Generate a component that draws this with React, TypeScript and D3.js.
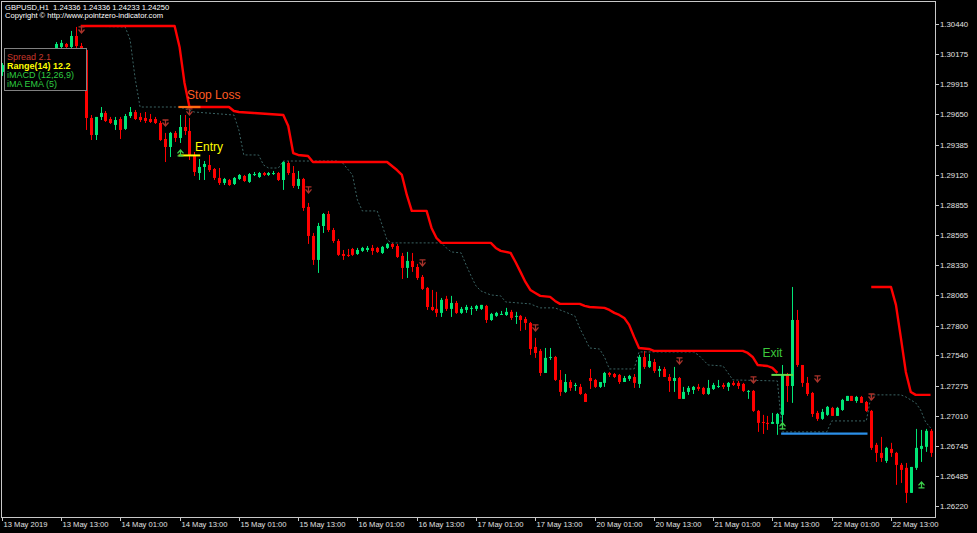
import * as d3 from "d3";
import React from "react";

const width = 977;
const height = 533;
const frame = { left: 1, top: 1, right: 935, bottom: 517 };

// one label every 12 H1 bars, first one is bar 0
const timeLabels = [
	"13 May 2019", "13 May 13:00", "14 May 01:00", "14 May 13:00",
	"15 May 01:00", "15 May 13:00", "16 May 01:00", "16 May 13:00",
	"17 May 01:00", "17 May 13:00", "20 May 01:00", "20 May 13:00",
	"21 May 01:00", "21 May 13:00", "22 May 01:00", "22 May 13:00",
];
const barsPerLabel = 12;

const priceTicks = [
	1.3044, 1.30175, 1.29915, 1.2965, 1.29385, 1.2912, 1.28855, 1.28595, 1.2833,
	1.28065, 1.278, 1.2754, 1.27275, 1.2701, 1.26745, 1.26485, 1.2622,
];

// GBPUSD H1 bars: [open, high, low, close]
const candles: [number, number, number, number][] = [
	[1.30021, 1.30099, 1.29986, 1.30082], [1.30082, 1.30126, 1.30038, 1.30108], [1.30108, 1.30143, 1.30056, 1.30073],
	[1.30073, 1.30126, 1.30038, 1.30117], [1.30117, 1.3017, 1.30091, 1.30152], [1.30152, 1.30178, 1.30099, 1.30126],
	[1.30126, 1.30196, 1.30108, 1.30178], [1.30178, 1.30205, 1.30143, 1.30161], [1.30161, 1.30213, 1.30135, 1.30196],
	[1.30196, 1.30222, 1.30152, 1.3017], [1.3017, 1.30222, 1.30152, 1.30205], [1.30205, 1.30283, 1.30187, 1.30266],
	[1.3024, 1.30301, 1.30222, 1.30275], [1.30266, 1.30275, 1.30231, 1.3024], [1.3024, 1.3038, 1.30222, 1.30336],
	[1.30336, 1.30415, 1.30231, 1.30248], [1.30248, 1.30275, 1.30161, 1.30213], [1.30213, 1.30231, 1.29513, 1.29618],
	[1.29618, 1.29644, 1.29425, 1.29469], [1.29469, 1.29627, 1.29425, 1.29627], [1.29627, 1.29714, 1.296, 1.29662],
	[1.29662, 1.29679, 1.29583, 1.29592], [1.29609, 1.29627, 1.29565, 1.29574], [1.29557, 1.29627, 1.29513, 1.296],
	[1.29609, 1.29627, 1.29434, 1.29513], [1.29522, 1.29653, 1.29513, 1.29635], [1.29635, 1.29714, 1.29618, 1.2967],
	[1.2967, 1.29688, 1.296, 1.29609], [1.29627, 1.29662, 1.29583, 1.296], [1.29618, 1.2967, 1.29574, 1.29592],
	[1.29609, 1.29653, 1.29574, 1.29583], [1.29609, 1.29627, 1.29565, 1.29574], [1.29574, 1.29592, 1.29417, 1.29425],
	[1.29434, 1.29487, 1.29232, 1.29364], [1.29364, 1.29496, 1.29276, 1.29487], [1.29487, 1.29504, 1.29408, 1.29443],
	[1.29443, 1.29644, 1.29399, 1.29539], [1.29539, 1.29644, 1.29469, 1.29504], [1.29504, 1.29618, 1.2925, 1.29294],
	[1.29294, 1.2932, 1.2911, 1.29145], [1.29136, 1.29259, 1.29075, 1.29189], [1.29189, 1.29241, 1.29075, 1.29215],
	[1.29206, 1.29294, 1.29145, 1.29162], [1.29171, 1.2918, 1.29075, 1.29093], [1.29093, 1.2918, 1.29031, 1.29049],
	[1.29049, 1.29093, 1.29031, 1.29084], [1.29075, 1.29084, 1.29023, 1.29031], [1.2904, 1.29101, 1.29031, 1.29093],
	[1.29084, 1.29127, 1.29075, 1.29119], [1.2911, 1.29119, 1.29058, 1.29066], [1.29058, 1.29136, 1.29049, 1.29127],
	[1.29119, 1.29145, 1.2911, 1.29127], [1.29101, 1.29145, 1.29093, 1.29136], [1.29136, 1.29145, 1.2911, 1.29119],
	[1.29119, 1.29145, 1.2911, 1.29136], [1.29127, 1.29154, 1.29119, 1.29136], [1.29136, 1.29145, 1.29066, 1.29075],
	[1.29075, 1.29241, 1.28988, 1.29232], [1.29224, 1.29241, 1.29119, 1.29136], [1.29136, 1.29197, 1.29005, 1.29023],
	[1.29023, 1.29154, 1.28996, 1.29084], [1.29084, 1.29093, 1.28804, 1.2883], [1.28839, 1.28874, 1.28515, 1.28585],
	[1.28585, 1.28611, 1.28331, 1.28375], [1.28375, 1.28699, 1.28261, 1.28672], [1.28672, 1.28786, 1.28611, 1.28777],
	[1.28777, 1.28804, 1.2862, 1.28637], [1.28637, 1.28655, 1.28524, 1.28541], [1.28541, 1.28558, 1.2841, 1.28419],
	[1.28427, 1.28462, 1.28375, 1.2841], [1.28419, 1.28471, 1.28401, 1.2841], [1.28471, 1.2848, 1.2841, 1.28419],
	[1.28427, 1.2848, 1.28419, 1.28462], [1.28454, 1.28489, 1.28445, 1.2848], [1.28462, 1.28497, 1.28445, 1.2848],
	[1.2848, 1.28506, 1.28419, 1.28454], [1.2848, 1.28489, 1.28436, 1.28445], [1.28436, 1.28497, 1.28427, 1.28489],
	[1.2848, 1.28524, 1.28471, 1.28515], [1.28515, 1.28524, 1.28471, 1.28489], [1.28497, 1.28515, 1.28392, 1.28401],
	[1.2841, 1.28436, 1.28208, 1.28305], [1.28305, 1.28445, 1.28217, 1.28366], [1.28366, 1.28436, 1.2827, 1.28313],
	[1.28313, 1.2834, 1.282, 1.28217], [1.28226, 1.28243, 1.28112, 1.28121], [1.2813, 1.28138, 1.27937, 1.27963],
	[1.27963, 1.28112, 1.27928, 1.27937], [1.27946, 1.28095, 1.27876, 1.27911], [1.27911, 1.28042, 1.27876, 1.28025],
	[1.28034, 1.2806, 1.27928, 1.27946], [1.27946, 1.2806, 1.27876, 1.27998], [1.27998, 1.28016, 1.27902, 1.27911],
	[1.27911, 1.27963, 1.27902, 1.27946], [1.27937, 1.27981, 1.27911, 1.27963], [1.27946, 1.27972, 1.27893, 1.27955],
	[1.27946, 1.27981, 1.27928, 1.27972], [1.27946, 1.27981, 1.27937, 1.27981], [1.27972, 1.27981, 1.27823, 1.27849],
	[1.27849, 1.27911, 1.27841, 1.27902], [1.27885, 1.2792, 1.27876, 1.27911], [1.27893, 1.27928, 1.27893, 1.27902],
	[1.27893, 1.27955, 1.27885, 1.2792], [1.2792, 1.27937, 1.27849, 1.27867], [1.27876, 1.2792, 1.27814, 1.27885],
	[1.27885, 1.27893, 1.27753, 1.27849], [1.27858, 1.27876, 1.27762, 1.27823], [1.27823, 1.27832, 1.27543, 1.27595],
	[1.27613, 1.27692, 1.27517, 1.2756], [1.27578, 1.27595, 1.27359, 1.27385], [1.27385, 1.27604, 1.27385, 1.27517],
	[1.27517, 1.27604, 1.27499, 1.27525], [1.27525, 1.27534, 1.27315, 1.27324], [1.27324, 1.27411, 1.27184, 1.27219],
	[1.27219, 1.27376, 1.2721, 1.27306], [1.27306, 1.27324, 1.27228, 1.27254], [1.27271, 1.27298, 1.27228, 1.2728],
	[1.27263, 1.27289, 1.27193, 1.27201], [1.27201, 1.2721, 1.27131, 1.27131], [1.27341, 1.2742, 1.27245, 1.27315],
	[1.27324, 1.27333, 1.27254, 1.27263], [1.27263, 1.27306, 1.27254, 1.27306], [1.27298, 1.27394, 1.27263, 1.27385],
	[1.27385, 1.27394, 1.2735, 1.27368], [1.27376, 1.27385, 1.27341, 1.2735], [1.27368, 1.27376, 1.27289, 1.27306],
	[1.27306, 1.27359, 1.27306, 1.27341], [1.27333, 1.27368, 1.27315, 1.27359], [1.2735, 1.27376, 1.27254, 1.27298],
	[1.27289, 1.27543, 1.27254, 1.27525], [1.27525, 1.27578, 1.2742, 1.27438], [1.27438, 1.27552, 1.27429, 1.2749],
	[1.27481, 1.27508, 1.27385, 1.27403], [1.27403, 1.27446, 1.2735, 1.2742], [1.2742, 1.27438, 1.2735, 1.2735],
	[1.2735, 1.27376, 1.27219, 1.27315], [1.27315, 1.27438, 1.27219, 1.27341], [1.27341, 1.2735, 1.27158, 1.27158],
	[1.27158, 1.27263, 1.27158, 1.27219], [1.27219, 1.27271, 1.27193, 1.27254], [1.27236, 1.27271, 1.27201, 1.27263],
	[1.27263, 1.27289, 1.27228, 1.27245], [1.27254, 1.27263, 1.27193, 1.27201], [1.27201, 1.27324, 1.27193, 1.27254],
	[1.27245, 1.27298, 1.27236, 1.2728], [1.27263, 1.27324, 1.27254, 1.27271], [1.2728, 1.27298, 1.27245, 1.27263],
	[1.27263, 1.27306, 1.27228, 1.27298], [1.27298, 1.27315, 1.27271, 1.2728], [1.27298, 1.27315, 1.27245, 1.27271],
	[1.27289, 1.27298, 1.27219, 1.27228], [1.27228, 1.27236, 1.27158, 1.27228], [1.27228, 1.27236, 1.27044, 1.27053],
	[1.27053, 1.27061, 1.26869, 1.26948], [1.26956, 1.27018, 1.26851, 1.26948], [1.26948, 1.27009, 1.26886, 1.26939],
	[1.26939, 1.27035, 1.26939, 1.26956], [1.26939, 1.27035, 1.26843, 1.27026], [1.27018, 1.27455, 1.26913, 1.27368],
	[1.27368, 1.27385, 1.27131, 1.27271], [1.27271, 1.28138, 1.27123, 1.27849], [1.27849, 1.27937, 1.27438, 1.27455],
	[1.27455, 1.27455, 1.27263, 1.27298], [1.27298, 1.2735, 1.27184, 1.27201], [1.2721, 1.27219, 1.27, 1.27026],
	[1.27035, 1.27053, 1.26965, 1.26983], [1.26983, 1.2707, 1.26974, 1.27044], [1.27018, 1.27096, 1.27009, 1.27088],
	[1.27079, 1.27088, 1.27009, 1.27009], [1.27009, 1.27088, 1.27009, 1.27079], [1.27061, 1.27158, 1.27053, 1.27149],
	[1.2714, 1.27184, 1.2714, 1.27184], [1.27184, 1.27184, 1.2714, 1.2714], [1.2714, 1.27184, 1.27123, 1.27175],
	[1.27175, 1.27184, 1.27123, 1.27123], [1.27131, 1.2714, 1.27044, 1.27053], [1.27053, 1.27061, 1.26711, 1.26729],
	[1.26755, 1.26773, 1.26606, 1.26685], [1.26685, 1.26825, 1.26606, 1.26641], [1.26615, 1.26738, 1.26597, 1.26729],
	[1.2672, 1.26773, 1.2665, 1.26685], [1.26685, 1.26694, 1.26405, 1.2658], [1.2658, 1.26597, 1.26422, 1.26536],
	[1.26554, 1.26597, 1.26247, 1.26335], [1.26335, 1.26562, 1.26335, 1.26562], [1.26554, 1.26895, 1.26536, 1.26729],
	[1.2672, 1.26886, 1.26606, 1.26746], [1.26738, 1.26895, 1.26694, 1.26878], [1.26878, 1.26895, 1.2665, 1.26685],
];

// trailing stop (solid red), [bar, price] vertices, two runs
const stopRuns: [number, number][][] = [
	[
		[16, 1.30423], [35, 1.30423], [36, 1.3024], [37, 1.29924], [38, 1.29714], [46, 1.29714], [47, 1.29679],
		[48, 1.2967], [51, 1.29662], [57, 1.29644], [58, 1.29548], [59, 1.29311], [60, 1.29294], [62, 1.29285],
		[63, 1.29232], [78, 1.29232], [79, 1.29197], [80, 1.29162], [81, 1.29119], [82, 1.28944], [83, 1.28804],
		[86, 1.28804], [87, 1.28655], [88, 1.28567], [89, 1.28524], [99, 1.28524], [100, 1.2848], [101, 1.28454],
		[103, 1.28436], [104, 1.28357], [105, 1.2827], [106, 1.28182], [107, 1.28112], [108, 1.28086], [109, 1.2806],
		[111, 1.28051], [112, 1.28016], [113, 1.2799], [117, 1.2799], [118, 1.27972], [119, 1.27963], [122, 1.27955],
		[123, 1.27937], [124, 1.27911], [125, 1.27893], [126, 1.27867], [127, 1.27806], [128, 1.27701], [129, 1.27604],
		[131, 1.27595], [132, 1.27578], [150, 1.27578], [151, 1.2756], [152, 1.27525], [153, 1.27455], [155, 1.27446],
		[156, 1.27429], [157, 1.27385],
	],
	[
		[176, 1.28138], [180, 1.28138], [181, 1.27981], [182, 1.27692], [183, 1.27394], [184, 1.27219], [185, 1.27193],
		[188, 1.27193],
	],
];

// second trailing level (dotted)
const trailLine: [number, number][] = [
	[16, 1.30423], [25, 1.30415], [26, 1.30301], [27, 1.29968], [28, 1.29714], [36, 1.29714], [39, 1.2967],
	[47, 1.29644], [48, 1.29513], [49, 1.29294], [52, 1.29294], [53, 1.29206], [54, 1.2918], [56, 1.2918],
	[57, 1.29241], [68, 1.29241], [69, 1.29224], [71, 1.29119], [72, 1.289], [73, 1.28804], [76, 1.28804],
	[77, 1.28681], [78, 1.2855], [79, 1.28524], [89, 1.28524], [90, 1.2848], [91, 1.28445], [93, 1.28436],
	[94, 1.28331], [95, 1.28235], [96, 1.28147], [97, 1.28103], [99, 1.28068], [101, 1.2806], [102, 1.28007],
	[107, 1.2799], [108, 1.27972], [109, 1.27955], [112, 1.27955], [113, 1.27937], [114, 1.2792], [116, 1.27885],
	[117, 1.27779], [118, 1.27692], [119, 1.27604], [121, 1.27595], [122, 1.27525], [123, 1.2742], [128, 1.2742],
	[129, 1.27569], [140, 1.27569], [141, 1.27543], [142, 1.27499], [143, 1.27455], [146, 1.27446], [147, 1.27385],
	[148, 1.27324], [157, 1.27315], [158, 1.26869], [167, 1.26869], [168, 1.26965], [175, 1.26965], [176, 1.27193],
	[182, 1.27193], [183, 1.27175], [185, 1.27123], [186, 1.27061], [187, 1.26956], [188, 1.26904],
];

const sellArrows: [number, number][] = [
	[16, 1.30415], [33, 1.296], [38, 1.29697], [62, 1.29014], [85, 1.28375], [108, 1.27806],
	[137, 1.27517], [152, 1.2735], [165, 1.27359], [176, 1.27201],
];
const buyArrows: [number, number][] = [[36, 1.29338], [158, 1.26948], [186, 1.26431]];

// trade objects: [fromBar, toBar, price]
const stopLevel: [number, number, number] = [36, 40, 1.29714];
const entryLevel: [number, number, number] = [36, 40, 1.2929];
const exitLevel: [number, number, number] = [156, 160, 1.27368];
const targetLevel: [number, number, number] = [158, 175, 1.26854];

const infoLines = [
	{ text: "Spread 2.1", color: "#c8382c", bold: false },
	{ text: "Range(14) 12.2", color: "#ffff00", bold: true },
	{ text: "iMACD (12,26,9)", color: "#2ecc40", bold: false },
	{ text: "iMA EMA (5)", color: "#2ecc40", bold: false },
];

const font = "'Liberation Sans', Arial, sans-serif";
const bull = "#00e676";
const bear = "#ff0000";

const x = d3.scaleLinear().domain([0, 180]).range([1.7, 891]);
const y = d3.scaleLinear().domain([1.2622, 1.3044]).range([506, 24.1]);

const line = d3
	.line<[number, number]>()
	.x((d) => x(d[0]))
	.y((d) => y(d[1]));

const App = () => {
	const px = (i: number) => Math.round(x(i)) + 0.5;

	const levelLine = (l: [number, number, number], color: string, w: number) => (
		<line
			x1={x(l[0])}
			x2={x(l[1])}
			y1={y(l[2])}
			y2={y(l[2])}
			stroke={color}
			strokeWidth={w}
			strokeLinecap="square"
		/>
	);

	return (
		<div style={{ position: "absolute", left: 0, top: 0 }}>
			<svg width={width} height={height} style={{ display: "block", background: "#000" }}>
				<defs>
					<clipPath id="plot">
						<rect x={frame.left} y={frame.top} width={frame.right - frame.left} height={frame.bottom - frame.top} />
					</clipPath>
				</defs>
				<rect width={width} height={height} fill="#000" />

				<g clipPath="url(#plot)">
					{candles.map(([o, h, l, c], i) => {
						const cx = px(i);
						const col = c >= o ? bull : bear;
						const top = Math.min(y(o), y(c));
						const bh = Math.max(1, Math.abs(y(o) - y(c)));
						return (
							<g key={i}>
								<line x1={cx} x2={cx} y1={y(h)} y2={y(l)} stroke={col} strokeWidth={1} />
								<rect x={cx - 1.5} y={top} width={3} height={bh} fill={col} />
							</g>
						);
					})}

					<path d={line(trailLine) ?? ""} fill="none" stroke="#3a6262" strokeWidth={1} strokeDasharray="2 2" />
					{stopRuns.map((run, k) => (
						<path key={k} d={line(run) ?? ""} fill="none" stroke="#ff0000" strokeWidth={2.4} strokeLinejoin="round" />
					))}

					{levelLine(stopLevel, "#ff6a10", 2.2)}
					{levelLine(entryLevel, "#ffff00", 2)}
					{levelLine(exitLevel, "#66d84a", 2)}
					{levelLine(targetLevel, "#2b8fe8", 2.4)}

					{sellArrows.map(([b, p], i) => {
						const cx = px(b);
						const t = y(p);
						return (
							<path
								key={"s" + i}
								d={`M${cx - 3},${t} h6 M${cx},${t} v6 M${cx - 3},${t + 2.5} L${cx},${t + 6} L${cx + 3},${t + 2.5}`}
								fill="none"
								stroke="#a8322a"
								strokeWidth={1.3}
							/>
						);
					})}
					{buyArrows.map(([b, p], i) => {
						const cx = px(b);
						const t = y(p);
						return (
							<path
								key={"b" + i}
								d={`M${cx - 3},${t + 6} h6 M${cx},${t + 6} v-6 M${cx - 3},${t + 3.5} L${cx},${t} L${cx + 3},${t + 3.5}`}
								fill="none"
								stroke="#3ccf4a"
								strokeWidth={1.3}
							/>
						);
					})}

					<text x={x(stopLevel[0]) + 7.5} y={y(stopLevel[2]) - 8} fill="#ff5a22" fontSize={12} fontFamily={font}>
						Stop Loss
					</text>
					<text x={x(entryLevel[0]) + 15.5} y={y(entryLevel[2]) - 4.5} fill="#ffff00" fontSize={12} fontFamily={font}>
						Entry
					</text>
					<text x={x(exitLevel[0]) - 10} y={y(exitLevel[2]) - 18} fill="#3cc83c" fontSize={12} fontFamily={font}>
						Exit
					</text>
				</g>

				{/* chart frame and axes */}
				<rect
					x={frame.left + 0.5}
					y={frame.top + 0.5}
					width={frame.right - frame.left}
					height={frame.bottom - frame.top}
					fill="none"
					stroke="#c8c8c8"
				/>
				{priceTicks.map((p) => (
					<g key={p}>
						<line x1={frame.right + 0.5} x2={frame.right + 4} y1={Math.round(y(p)) + 0.5} y2={Math.round(y(p)) + 0.5} stroke="#c8c8c8" />
						<text x={940} y={y(p) + 3} fill="#e0e0e0" fontSize={7.8} fontFamily={font}>
							{p.toFixed(5)}
						</text>
					</g>
				))}
				{timeLabels.map((t, i) => {
					const tx = Math.round(x(i * barsPerLabel)) + 0.5;
					return (
						<g key={t}>
							<line x1={tx} x2={tx} y1={frame.bottom + 0.5} y2={frame.bottom + 4} stroke="#c8c8c8" />
							<text x={tx + 1} y={527} fill="#e0e0e0" fontSize={7.6} fontFamily={font}>
								{t}
							</text>
						</g>
					);
				})}

				{/* info panel */}
				<rect x={4.5} y={48.5} width={82} height={42} fill="#000" stroke="#808080" />
				{infoLines.map((l, i) => (
					<text
						key={l.text}
						x={7}
						y={59.5 + i * 9}
						fill={l.color}
						fontSize={9}
						fontWeight={l.bold ? "bold" : "normal"}
						fontFamily={font}
					>
						{l.text}
					</text>
				))}

				<text x={5} y={10} fill="#ffffff" fontSize={7.6} fontFamily={font} style={{ whiteSpace: "pre" }}>
					{"GBPUSD,H1  1.24336 1.24336 1.24233 1.24250"}
				</text>
				<text x={5} y={18} fill="#ffffff" fontSize={7.6} fontFamily={font}>
					Copyright © http://www.pointzero-indicator.com
				</text>
			</svg>
		</div>
	);
};

export default App;
